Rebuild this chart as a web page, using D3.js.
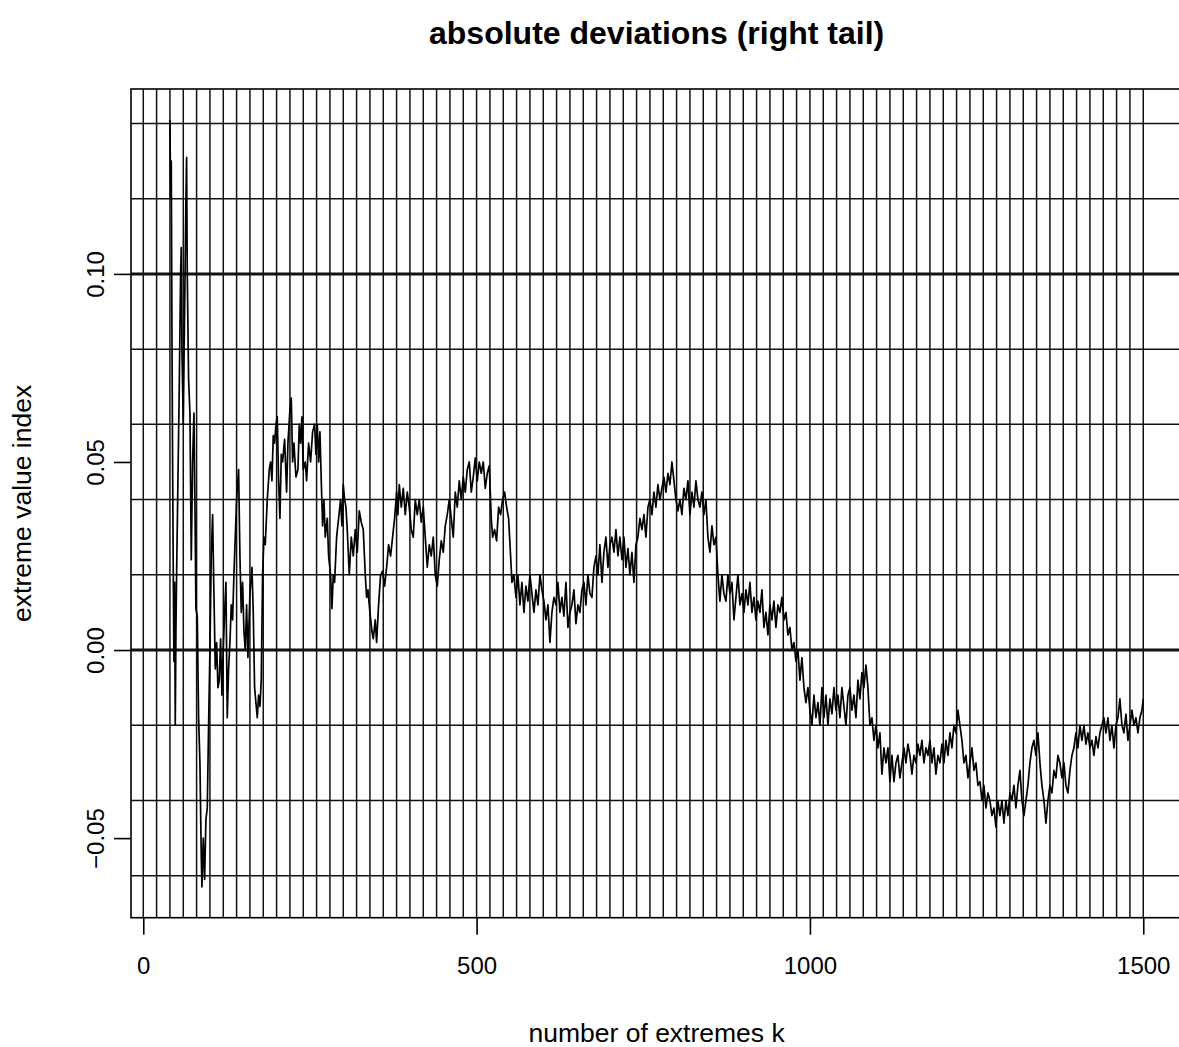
<!DOCTYPE html>
<html>
<head>
<meta charset="utf-8">
<script src="https://cdn.jsdelivr.net/npm/d3@7"></script>
<style>
  html, body { margin: 0; padding: 0; background: #fff; }
  svg { display: block; font-family: "Liberation Sans", Arial, sans-serif; }
</style>
</head>
<body>
<div id="chart"></div>
<script>
// number of extremes k and the estimated index
const kValues = [
  40, 41, 42, 43, 44, 45, 46, 47, 48, 49, 50, 52, 54, 56, 57, 58, 60, 62, 64, 65,
  66, 68, 70, 72, 74, 76, 78, 79, 81, 83, 85, 87, 88, 90, 92, 94, 96, 98, 100, 102,
  104, 106, 108, 110, 112, 114, 116, 118, 120, 122, 124, 126, 128, 130, 132, 134, 136, 138, 140, 143,
  145, 147, 149, 151, 153, 155, 157, 160, 163, 165, 167, 169, 171, 173, 175, 177, 179, 181, 183, 186,
  189, 191, 193, 195, 197, 199, 201, 203, 205, 207, 209, 212, 215, 217, 220, 222, 224, 226, 229, 232,
  234, 236, 238, 240, 243, 245, 248, 251, 254, 257, 259, 261, 263, 265, 267, 269, 271, 273, 276, 278,
  281, 283, 285, 287, 290, 293, 296, 298, 300, 302, 304, 306, 309, 312, 315, 318, 321, 324, 327, 330,
  333, 335, 337, 340, 343, 345, 348, 350, 353, 356, 359, 362, 365, 368, 371, 374, 377, 380, 382, 384,
  387, 390, 393, 396, 399, 402, 405, 408, 411, 414, 417, 420, 423, 426, 429, 432, 435, 438, 441, 444,
  447, 450, 453, 456, 459, 462, 465, 468, 471, 474, 477, 480, 483, 486, 489, 492, 495, 498, 501, 504,
  507, 510, 513, 516, 519, 522, 524, 527, 530, 533, 536, 539, 542, 545, 548, 551, 553, 556, 559, 562,
  565, 568, 571, 574, 577, 580, 583, 586, 589, 592, 595, 598, 601, 604, 607, 610, 613, 616, 619, 622,
  625, 628, 631, 634, 637, 640, 643, 646, 649, 652, 655, 658, 661, 664, 667, 670, 673, 676, 679, 682,
  685, 688, 691, 694, 697, 700, 703, 706, 709, 712, 715, 718, 721, 724, 727, 730, 733, 736, 739, 742,
  745, 748, 751, 754, 757, 760, 763, 766, 769, 772, 775, 778, 781, 784, 787, 790, 793, 796, 799, 802,
  805, 808, 811, 814, 817, 820, 823, 826, 829, 832, 835, 838, 841, 844, 847, 850, 853, 856, 859, 862,
  865, 868, 871, 874, 877, 880, 883, 886, 889, 892, 895, 898, 901, 904, 907, 910, 913, 916, 919, 922,
  925, 928, 931, 934, 937, 940, 943, 946, 949, 952, 955, 958, 961, 964, 967, 970, 973, 976, 979, 982,
  985, 988, 991, 994, 997, 1000, 1003, 1006, 1009, 1012, 1015, 1018, 1021, 1024, 1027, 1030, 1033, 1036, 1039, 1042,
  1045, 1048, 1051, 1054, 1057, 1060, 1063, 1066, 1069, 1072, 1075, 1078, 1081, 1084, 1087, 1090, 1093, 1096, 1099, 1102,
  1105, 1108, 1111, 1114, 1117, 1120, 1123, 1126, 1129, 1132, 1135, 1138, 1141, 1144, 1147, 1150, 1153, 1156, 1159, 1162,
  1165, 1168, 1171, 1174, 1177, 1180, 1183, 1186, 1189, 1192, 1195, 1198, 1201, 1204, 1207, 1210, 1213, 1216, 1219, 1222,
  1225, 1228, 1231, 1234, 1237, 1240, 1243, 1246, 1249, 1252, 1255, 1258, 1261, 1264, 1267, 1270, 1273, 1276, 1279, 1282,
  1285, 1288, 1291, 1294, 1297, 1300, 1303, 1306, 1309, 1312, 1315, 1318, 1321, 1324, 1327, 1330, 1333, 1336, 1339, 1342,
  1345, 1348, 1351, 1354, 1357, 1360, 1363, 1366, 1369, 1372, 1375, 1378, 1381, 1384, 1387, 1390, 1393, 1396, 1399, 1402,
  1405, 1408, 1411, 1414, 1417, 1420, 1423, 1426, 1429, 1432, 1435, 1438, 1441, 1444, 1447, 1450, 1453, 1456, 1459, 1462,
  1465, 1468, 1471, 1474, 1477, 1480, 1483, 1486, 1489, 1492, 1495, 1498, 1500
];

const indexValues = [
  0.141, 0.120, 0.130, 0.085, 0.050, 0.021, -0.003, 0.018, -0.020, 0.005, 0.020, 0.045, 0.070, 0.100, 0.107, 0.080, 0.060, 0.090, 0.120, 0.131,
  0.100, 0.072, 0.063, 0.024, 0.050, 0.063, 0.030, 0.011, 0.009, -0.018, -0.030, -0.055, -0.063, -0.050, -0.061, -0.045, -0.042, -0.020, 0.000, 0.025,
  0.036, 0.015, -0.005, 0.002, -0.010, -0.008, 0.003, -0.012, 0.000, 0.010, 0.018, -0.018, -0.005, 0.002, 0.012, 0.008, 0.020, 0.030, 0.040, 0.048,
  0.025, 0.010, 0.018, 0.005, 0.000, 0.012, -0.002, 0.015, 0.022, 0.010, -0.010, -0.014, -0.018, -0.012, -0.015, -0.008, 0.020, 0.030, 0.028, 0.040,
  0.048, 0.050, 0.045, 0.057, 0.055, 0.060, 0.062, 0.045, 0.035, 0.052, 0.050, 0.056, 0.042, 0.055, 0.064, 0.067, 0.050, 0.055, 0.046, 0.048,
  0.060, 0.055, 0.062, 0.048, 0.050, 0.045, 0.055, 0.050, 0.058, 0.060, 0.052, 0.060, 0.050, 0.058, 0.045, 0.033, 0.040, 0.030, 0.035, 0.025,
  0.020, 0.011, 0.020, 0.018, 0.030, 0.035, 0.040, 0.033, 0.044, 0.040, 0.038, 0.032, 0.020, 0.030, 0.025, 0.032, 0.026, 0.037, 0.034, 0.032,
  0.020, 0.014, 0.016, 0.010, 0.005, 0.003, 0.008, 0.002, 0.012, 0.020, 0.021, 0.017, 0.022, 0.028, 0.025, 0.030, 0.035, 0.042, 0.036, 0.044,
  0.038, 0.043, 0.036, 0.042, 0.038, 0.032, 0.030, 0.040, 0.036, 0.040, 0.034, 0.038, 0.030, 0.022, 0.028, 0.025, 0.030, 0.020, 0.017, 0.024,
  0.029, 0.026, 0.033, 0.036, 0.040, 0.035, 0.030, 0.042, 0.038, 0.045, 0.040, 0.046, 0.042, 0.048, 0.050, 0.042, 0.046, 0.051, 0.045, 0.050,
  0.047, 0.050, 0.043, 0.047, 0.049, 0.035, 0.030, 0.032, 0.029, 0.038, 0.036, 0.040, 0.042, 0.038, 0.035, 0.025, 0.018, 0.020, 0.014, 0.020,
  0.012, 0.018, 0.010, 0.017, 0.013, 0.020, 0.015, 0.010, 0.016, 0.012, 0.020, 0.016, 0.013, 0.008, 0.012, 0.002, 0.010, 0.014, 0.012, 0.018,
  0.010, 0.014, 0.009, 0.018, 0.006, 0.010, 0.012, 0.016, 0.007, 0.012, 0.010, 0.016, 0.018, 0.012, 0.020, 0.015, 0.014, 0.022, 0.025, 0.020,
  0.028, 0.018, 0.026, 0.030, 0.022, 0.028, 0.030, 0.026, 0.032, 0.025, 0.030, 0.024, 0.030, 0.022, 0.027, 0.020, 0.026, 0.018, 0.028, 0.030,
  0.035, 0.032, 0.036, 0.030, 0.038, 0.040, 0.036, 0.042, 0.038, 0.044, 0.040, 0.043, 0.046, 0.042, 0.047, 0.044, 0.050, 0.045, 0.040, 0.037,
  0.040, 0.036, 0.043, 0.040, 0.045, 0.036, 0.042, 0.038, 0.045, 0.040, 0.038, 0.042, 0.036, 0.040, 0.030, 0.026, 0.033, 0.028, 0.030, 0.020,
  0.013, 0.020, 0.015, 0.013, 0.020, 0.015, 0.018, 0.008, 0.014, 0.020, 0.012, 0.015, 0.010, 0.016, 0.012, 0.018, 0.010, 0.014, 0.008, 0.013,
  0.010, 0.016, 0.006, 0.010, 0.004, 0.012, 0.008, 0.013, 0.006, 0.012, 0.010, 0.014, 0.008, 0.010, 0.004, 0.006, 0.000, 0.002, -0.003, 0.000,
  -0.008, -0.002, -0.010, -0.014, -0.010, -0.016, -0.020, -0.012, -0.018, -0.014, -0.020, -0.010, -0.018, -0.012, -0.020, -0.013, -0.017, -0.010, -0.016, -0.012,
  -0.018, -0.010, -0.015, -0.020, -0.012, -0.010, -0.016, -0.012, -0.018, -0.008, -0.013, -0.006, -0.010, -0.004, -0.010, -0.020, -0.018, -0.024, -0.020, -0.026,
  -0.022, -0.033, -0.026, -0.030, -0.026, -0.035, -0.028, -0.035, -0.030, -0.028, -0.034, -0.030, -0.026, -0.030, -0.025, -0.028, -0.033, -0.028, -0.030, -0.025,
  -0.028, -0.024, -0.030, -0.026, -0.028, -0.024, -0.030, -0.026, -0.033, -0.028, -0.030, -0.025, -0.030, -0.024, -0.028, -0.022, -0.026, -0.020, -0.022, -0.016,
  -0.020, -0.024, -0.030, -0.028, -0.034, -0.030, -0.026, -0.032, -0.030, -0.036, -0.035, -0.040, -0.036, -0.042, -0.038, -0.040, -0.044, -0.042, -0.047, -0.040,
  -0.044, -0.040, -0.046, -0.040, -0.044, -0.038, -0.040, -0.036, -0.042, -0.036, -0.032, -0.040, -0.044, -0.040, -0.036, -0.030, -0.026, -0.024, -0.028, -0.022,
  -0.030, -0.036, -0.040, -0.046, -0.040, -0.036, -0.038, -0.032, -0.034, -0.028, -0.030, -0.034, -0.030, -0.036, -0.038, -0.032, -0.028, -0.026, -0.022, -0.026,
  -0.020, -0.024, -0.020, -0.025, -0.022, -0.026, -0.024, -0.028, -0.023, -0.026, -0.022, -0.020, -0.018, -0.022, -0.018, -0.024, -0.020, -0.026, -0.020, -0.018,
  -0.013, -0.020, -0.022, -0.017, -0.024, -0.020, -0.016, -0.020, -0.018, -0.022, -0.018, -0.016, -0.013
];

const xTicks = [0, 500, 1000, 1500];
const yTicks = [-0.05, 0.00, 0.05, 0.10];
const heavyLines = [0.00, 0.10];

const titleText = 'absolute deviations (right tail)';
const xLabel = 'number of extremes k';
const yLabel = 'extreme value index';

const W = 1179, H = 1047;
const plot = { left: 131, top: 89, bottom: 917.7 };

const data = kValues.map((k, i) => ({ k, v: indexValues[i] }));

// R style 4% padding around the data range
function padded(ext) {
  const d = (ext[1] - ext[0]) * 0.04;
  return [ext[0] - d, ext[1] + d];
}

const xDom = padded(d3.extent(kValues));
const yDom = padded(d3.extent(indexValues));

// 500 units of k take 333.3 px in the reference
const pxPerK = 333.33 / 500;
plot.right = plot.left + (xDom[1] - xDom[0]) * pxPerK;

const x = d3.scaleLinear().domain(xDom).range([plot.left, plot.right]);
const y = d3.scaleLinear().domain(yDom).range([plot.bottom, plot.top]);

const svg = d3.select('#chart').append('svg')
  .attr('width', W)
  .attr('height', H);

// --- grid ---
const gridK = d3.range(0, 1501, 20);
const gridV = d3.range(-6, 15, 2).map(d => d / 100);

svg.append('g').selectAll('line')
  .data(gridK)
  .join('line')
    .attr('x1', d => x(d)).attr('x2', d => x(d))
    .attr('y1', plot.top).attr('y2', plot.bottom)
    .attr('stroke', '#111')
    .attr('stroke-width', 1.5);

svg.append('g').selectAll('line')
  .data(gridV)
  .join('line')
    .attr('x1', plot.left).attr('x2', plot.right)
    .attr('y1', d => y(d)).attr('y2', d => y(d))
    .attr('stroke', '#111')
    .attr('stroke-width', d => heavyLines.some(h => Math.abs(h - d) < 1e-9) ? 3 : 1.5);

// --- series ---
const line = d3.line().x(d => x(d.k)).y(d => y(d.v));

svg.append('path')
  .datum(data)
  .attr('fill', 'none')
  .attr('stroke', '#000')
  .attr('stroke-width', 1.7)
  .attr('stroke-linejoin', 'round')
  .attr('d', line);

// --- box ---
svg.append('rect')
  .attr('x', plot.left).attr('y', plot.top)
  .attr('width', plot.right - plot.left)
  .attr('height', plot.bottom - plot.top)
  .attr('fill', 'none')
  .attr('stroke', '#000')
  .attr('stroke-width', 1.6);

// --- axes ---
const xAxis = svg.append('g')
  .attr('transform', `translate(0,${plot.bottom})`)
  .call(d3.axisBottom(x).tickValues(xTicks).tickSize(17).tickPadding(22)
    .tickFormat(d3.format('d')).tickSizeOuter(0));
xAxis.select('.domain').remove();
xAxis.selectAll('line').attr('stroke', '#000').attr('stroke-width', 1.6);
xAxis.selectAll('text').attr('fill', '#000').attr('font-size', 24)
  .attr('font-family', '"Liberation Sans", Arial, sans-serif');

const yAxis = svg.append('g')
  .attr('transform', `translate(${plot.left},0)`)
  .call(d3.axisLeft(y).tickValues(yTicks).tickSize(17).tickFormat(d3.format('.2f')).tickSizeOuter(0));
yAxis.select('.domain').remove();
yAxis.selectAll('line').attr('stroke', '#000').attr('stroke-width', 1.6);
yAxis.selectAll('text')
  .attr('fill', '#000').attr('font-size', 24)
  .attr('font-family', '"Liberation Sans", Arial, sans-serif')
  .attr('x', null).attr('dy', null)
  .attr('text-anchor', 'middle')
  .attr('transform', 'translate(-27,0) rotate(-90)');

// --- labels ---
const midX = (plot.left + plot.right) / 2;
const midY = (plot.top + plot.bottom) / 2;

svg.append('text')
  .attr('x', midX).attr('y', 44)
  .attr('text-anchor', 'middle')
  .attr('font-size', 32)
  .attr('font-weight', 'bold')
  .text(titleText);

svg.append('text')
  .attr('x', midX).attr('y', 1042)
  .attr('text-anchor', 'middle')
  .attr('font-size', 26.5)
  .text(xLabel);

svg.append('text')
  .attr('transform', `translate(31,${midY}) rotate(-90)`)
  .attr('text-anchor', 'middle')
  .attr('font-size', 26.5)
  .text(yLabel);
</script>
</body>
</html>
